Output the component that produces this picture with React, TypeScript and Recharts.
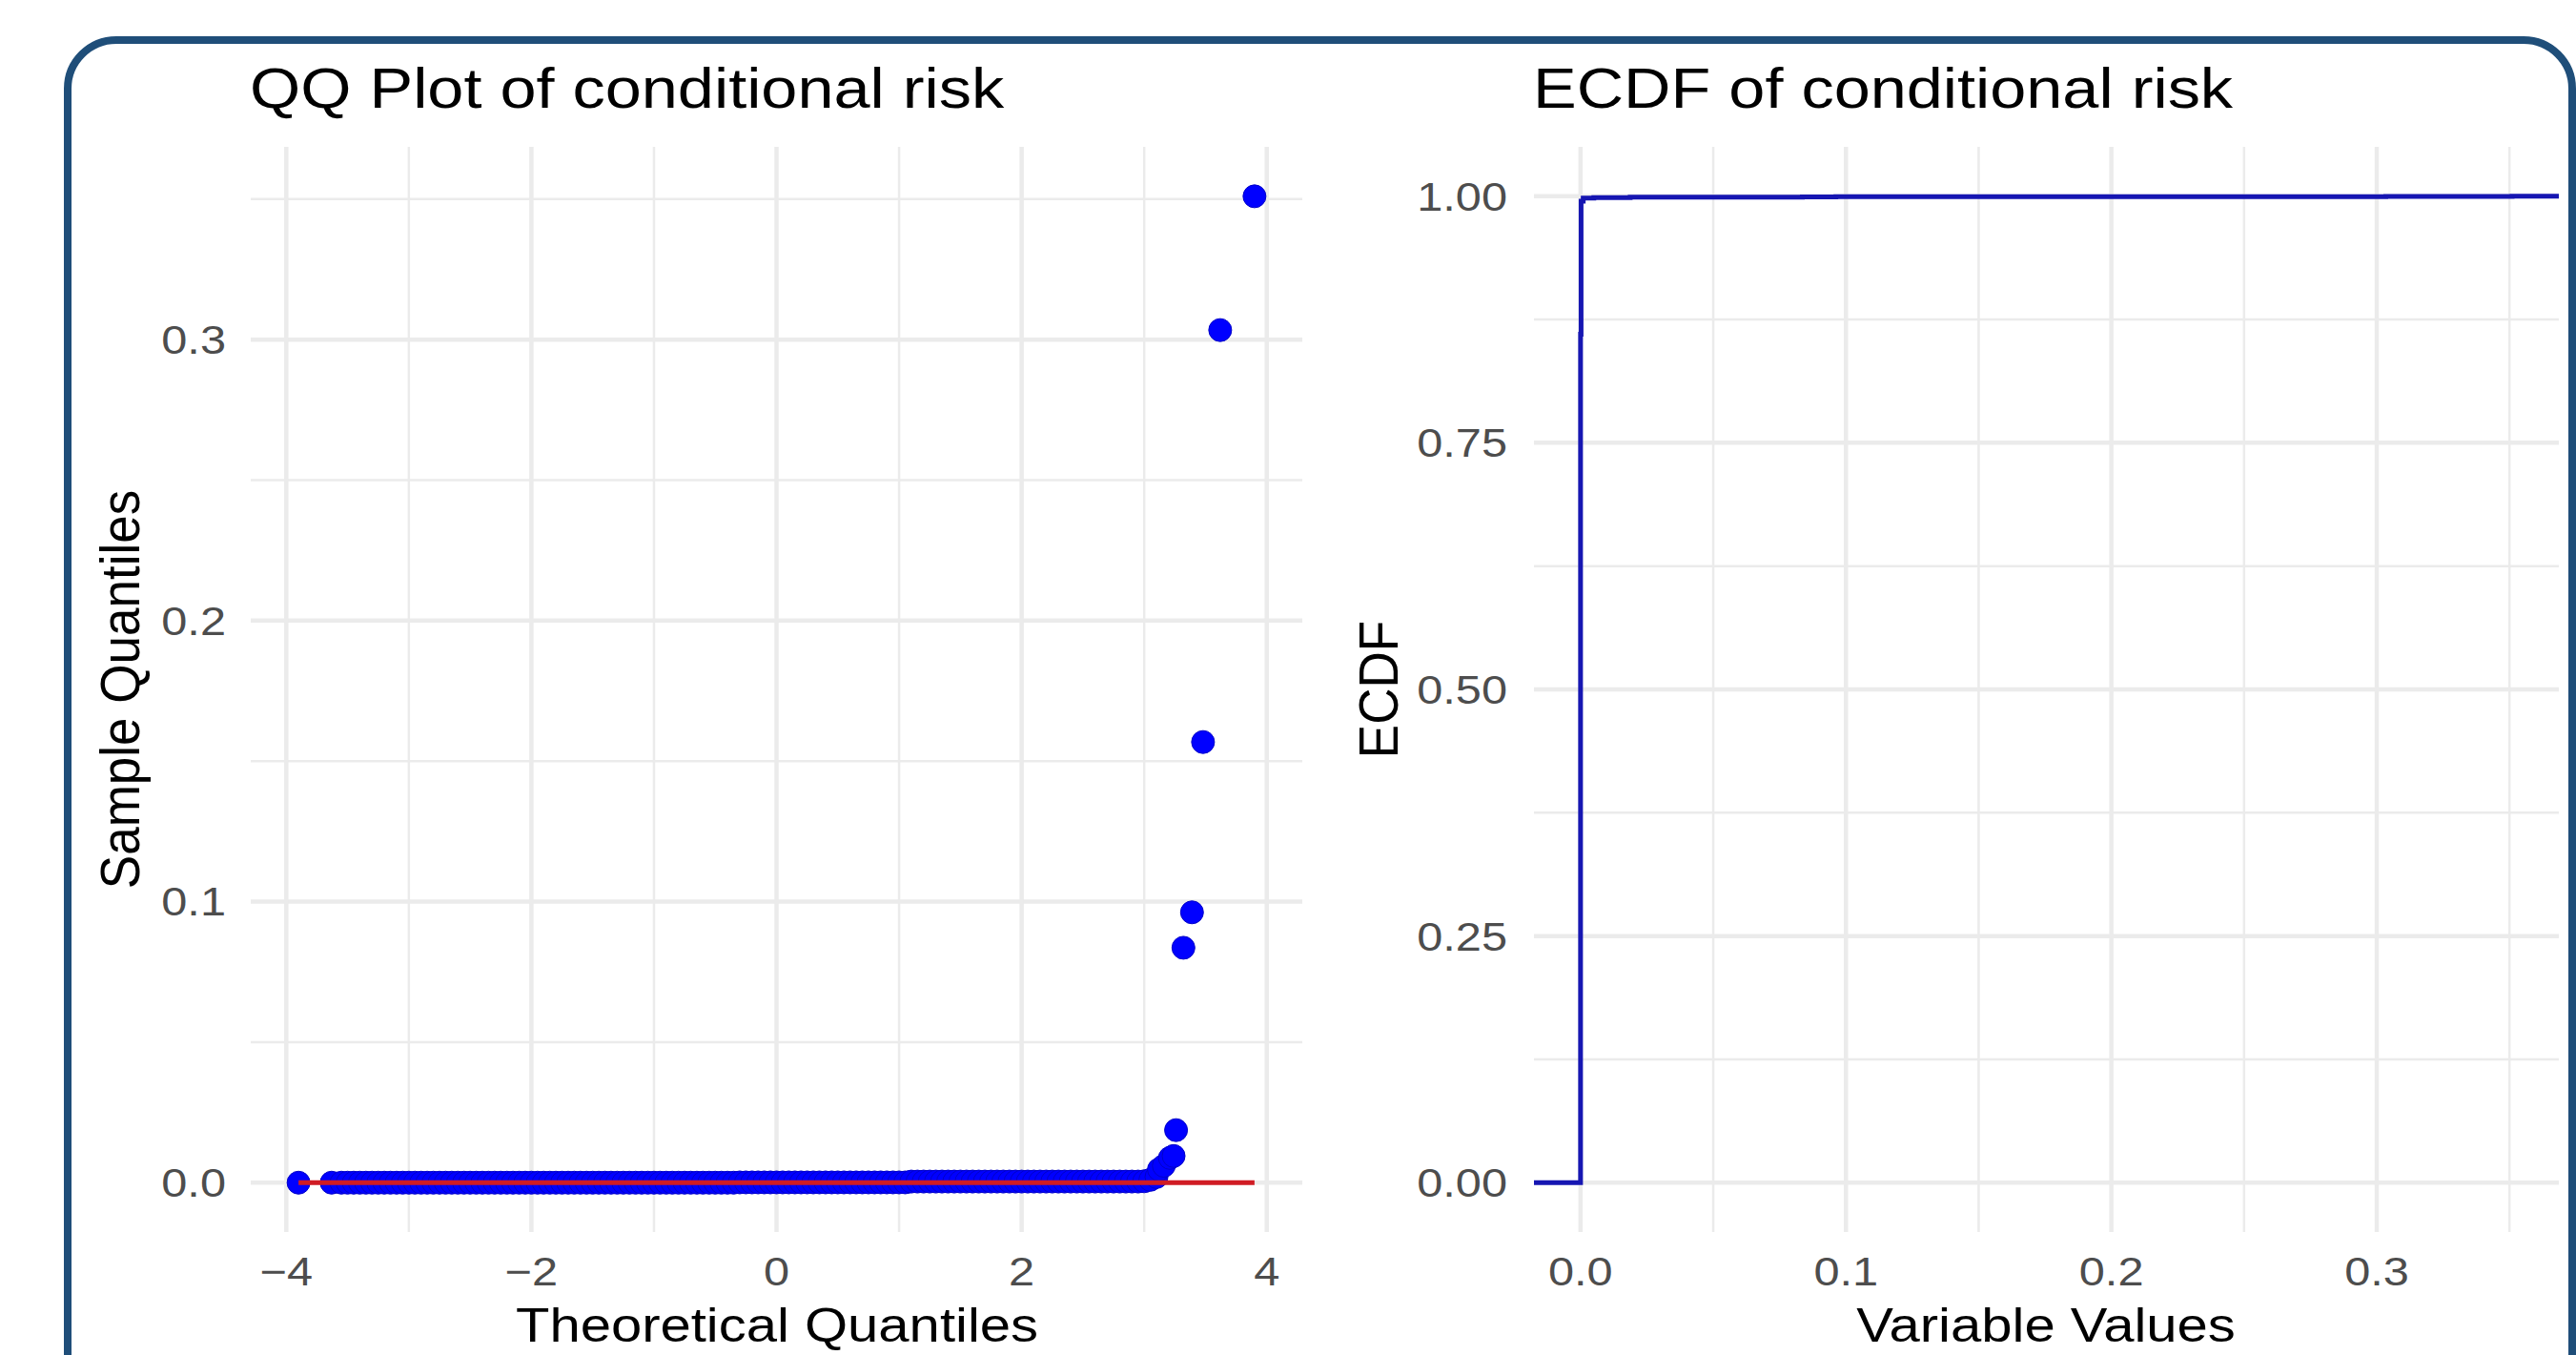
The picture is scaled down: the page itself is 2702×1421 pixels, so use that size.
import React from "react"
import { ComposedChart, LineChart, Line, Scatter, XAxis, YAxis, CartesianGrid } from "recharts"

// QQ plot points.
// Left tail and flat part of the band (sample quantile ~0)
const qqLowX = [
  -3.9, -3.63, -3.55, -3.5, -3.45, -3.4, -3.35,
  -3.3, -3.25, -3.2, -3.15, -3.1, -3.05, -3.0, -2.95, -2.9, -2.85,
  -2.8, -2.75, -2.7, -2.65, -2.6, -2.55, -2.5, -2.45, -2.4, -2.35,
  -2.3, -2.25, -2.2, -2.15, -2.1, -2.05, -2.0, -1.95, -1.9, -1.85,
  -1.8, -1.75, -1.7, -1.65, -1.6, -1.55, -1.5, -1.45, -1.4, -1.35,
  -1.3, -1.25, -1.2, -1.15, -1.1, -1.05, -1.0, -0.95, -0.9, -0.85,
  -0.8, -0.75, -0.7, -0.65, -0.6, -0.55, -0.5, -0.45, -0.4, -0.35,
  -0.3, -0.25, -0.2, -0.15, -0.1, -0.05, 0.0, 0.05, 0.1, 0.15,
  0.2, 0.25, 0.3, 0.35, 0.4, 0.45, 0.5, 0.55, 0.6, 0.65,
  0.7, 0.75, 0.8, 0.85, 0.9, 0.95, 1.0, 1.05,
]
const qqLowY = [
  0, 0, 0, 0, 0, 0, 0,
  0, 0, 0, 0, 0, 0, 0, 0, 0, 0,
  0, 0, 0, 0, 0, 0, 0, 0, 0, 0,
  0, 0, 0, 0, 0, 0, 0, 0, 0, 0,
  0, 0, 0, 0, 0, 0, 0, 0, 0, 0,
  0, 0, 0, 0, 0, 0, 0, 0, 0, 0,
  0, 0, 0, 0, 0, 0, 0, 0, 0, 0,
  0.0001, 0.0001, 0.0001, 0.0001, 0.0001, 0.0001, 0.0001, 0.0001, 0.0001, 0.0001,
  0.0001, 0.0001, 0.0001, 0.0001, 0.0001, 0.0001, 0.0001, 0.0001, 0.0001, 0.0001,
  0.0001, 0.0001, 0.0001, 0.0001, 0.0001, 0.0001, 0.0001, 0.0001,
]
// Slightly raised part of the band
const qqMidX = [
  1.1, 1.15, 1.2, 1.25, 1.3, 1.35, 1.4, 1.45, 1.5, 1.55,
  1.6, 1.65, 1.7, 1.75, 1.8, 1.85, 1.9, 1.95, 2.0, 2.05,
  2.1, 2.15, 2.2, 2.25, 2.3, 2.35, 2.4, 2.45, 2.5, 2.55,
  2.6, 2.65, 2.7, 2.75, 2.8, 2.85, 2.9, 2.95, 3.0,
]
const qqMidY = [
  0.0004, 0.0004, 0.0004, 0.0004, 0.0004, 0.0004, 0.0004, 0.0004, 0.0004, 0.0004,
  0.0004, 0.0004, 0.0004, 0.0004, 0.0004, 0.0004, 0.0004, 0.0004, 0.0004, 0.0004,
  0.0004, 0.0004, 0.0004, 0.0004, 0.0004, 0.0004, 0.0004, 0.0004, 0.0004, 0.0004,
  0.0004, 0.0004, 0.0004, 0.0004, 0.0004, 0.0004, 0.0004, 0.0004, 0.0005,
]
// Upper tail
const qqTailX = [3.05, 3.1, 3.12, 3.16, 3.21, 3.24, 3.26, 3.32, 3.39, 3.48, 3.62, 3.9]
const qqTailY = [0.001, 0.002, 0.0047, 0.006, 0.0088, 0.0095, 0.0187, 0.0836, 0.0962, 0.1568, 0.3034, 0.351]

// Reference (qq) line
const qqLineX = [-3.9, 3.9]
const qqLineY = [0, 0]

const qqXTicks = [-4, -2, 0, 2, 4]
const qqXLabels = ["\u22124", "\u22122", "0", "2", "4"]
const qqXMinor = [-3, -1, 1, 3]
const qqYTicks = [0, 0.1, 0.2, 0.3]
const qqYLabels = ["0.0", "0.1", "0.2", "0.3"]
const qqYMinor = [0.05, 0.15, 0.25, 0.35]

// ECDF (step function, padded to the panel edges like stat_ecdf)
const ecdfX = [-0.01755, 0, 0.0002, 0.001, 0.005, 0.0187, 0.0836, 0.0962, 0.1568, 0.3034, 0.351, 0.3686]
const ecdfY = [0, 0.86, 0.995, 0.998, 0.9985, 0.999, 0.9992, 0.9994, 0.9996, 0.9998, 1, 1]

const ecdfXTicks = [0, 0.1, 0.2, 0.3]
const ecdfXLabels = ["0.0", "0.1", "0.2", "0.3"]
const ecdfXMinor = [0.05, 0.15, 0.25, 0.35]
const ecdfYTicks = [0, 0.25, 0.5, 0.75, 1]
const ecdfYLabels = ["0.00", "0.25", "0.50", "0.75", "1.00"]
const ecdfYMinor = [0.125, 0.375, 0.625, 0.875]

const FONT = '"Liberation Sans", Arial, Helvetica, sans-serif'
const STRETCH = 1.16
const GRID = "#ebebeb"

const toPoints = (xs: number[], ys: number[]) => xs.map((x, i) => ({ x, y: ys[i] }))
const qqPoints = [...toPoints(qqLowX, qqLowY), ...toPoints(qqMidX, qqMidY), ...toPoints(qqTailX, qqTailY)]
const qqLine = toPoints(qqLineX, qqLineY)
const ecdfData = toPoints(ecdfX, ecdfY)

function tickRenderer(values: number[], labels: string[], side: "x" | "y") {
  return (props: any) => {
    const { x, y, payload } = props
    const i = values.indexOf(payload.value)
    const label = i >= 0 ? labels[i] : String(payload.value)
    return (
      <g transform={`translate(${x},${y}) scale(${STRETCH},1)`}>
        <text
          x={0}
          y={0}
          dy={side === "x" ? "0.71em" : "0.355em"}
          textAnchor={side === "x" ? "middle" : "end"}
          fill="#4d4d4d"
          fontSize={42}
          fontFamily={FONT}
        >
          {label}
        </text>
      </g>
    )
  }
}

// map a value through whatever scale object the grid generator receives
function mapThrough(s: any, v: number): number {
  if (typeof s === "function") return s(v)
  if (s && typeof s.map === "function") return s.map(v)
  const d = s.domain()
  const r = s.range()
  return r[0] + ((v - d[0]) / (d[1] - d[0])) * (r[1] - r[0])
}
const minorV = (values: number[]) => (p: any) => {
  try {
    return values.map((v) => mapThrough(p.xAxis.scale, v)).filter((n) => Number.isFinite(n))
  } catch (e) {
    return []
  }
}
const minorH = (values: number[]) => (p: any) => {
  try {
    return values.map((v) => mapThrough(p.yAxis.scale, v)).filter((n) => Number.isFinite(n))
  } catch (e) {
    return []
  }
}

const Dot = (props: any) => (
  <circle cx={props.cx} cy={props.cy} r={12} fill="#0000ff" stroke="#0000c8" strokeWidth={1} />
)
const NoDot = () => <g />

function PlotTitle({ left, text }: { left: number; text: string }) {
  return (
    <div
      style={{
        position: "absolute", left, top: 64, fontFamily: FONT, fontSize: 59, lineHeight: 1,
        whiteSpace: "nowrap", color: "#000", transform: `scaleX(${STRETCH})`, transformOrigin: "left top",
      }}
    >
      {text}
    </div>
  )
}

function XTitle({ cx, text }: { cx: number; text: string }) {
  return (
    <div
      style={{
        position: "absolute", left: cx, top: 1365, fontFamily: FONT, fontSize: 50, lineHeight: 1,
        whiteSpace: "nowrap", color: "#000", transform: `translateX(-50%) scaleX(${STRETCH})`,
      }}
    >
      {text}
    </div>
  )
}

function YTitle({ cx, cy, text }: { cx: number; cy: number; text: string }) {
  return (
    <div
      style={{
        position: "absolute", left: cx, top: cy, fontFamily: FONT, fontSize: 53, lineHeight: 1,
        whiteSpace: "nowrap", color: "#000",
        transform: `translate(-50%,-50%) rotate(-90deg) scaleY(1.08)`,
      }}
    >
      {text}
    </div>
  )
}

export default function App() {
  return (
    <div style={{ position: "fixed", left: 0, top: 0, width: 2702, height: 1421, overflow: "hidden", background: "#fff" }}>
      <div
        style={{
          position: "absolute", left: 67, top: 38, width: 2635, height: 1500, boxSizing: "border-box",
          border: "8px solid #1f4e79", borderRadius: 55, background: "#fff",
        }}
      />

      <div style={{ position: "absolute", left: 0, top: 0 }}>
        <ComposedChart width={1400} height={1421} margin={{ top: 154, right: 34, bottom: 0, left: 63 }}>
          <CartesianGrid
            stroke={GRID} strokeWidth={2.5}
            verticalCoordinatesGenerator={minorV(qqXMinor)}
            horizontalCoordinatesGenerator={minorH(qqYMinor)}
          />
          <CartesianGrid stroke={GRID} strokeWidth={4.5} syncWithTicks />
          <XAxis
            type="number" dataKey="x" domain={[-4.29, 4.29]} ticks={qqXTicks} allowDataOverflow
            height={129} axisLine={false} tickLine={false} tickSize={0} tickMargin={26}
            tick={tickRenderer(qqXTicks, qqXLabels, "x")}
          />
          <YAxis
            type="number" dataKey="y" domain={[-0.01755, 0.3686]} ticks={qqYTicks} allowDataOverflow
            width={200} axisLine={false} tickLine={false} tickSize={0} tickMargin={26}
            tick={tickRenderer(qqYTicks, qqYLabels, "y")}
          />
          <Scatter data={qqPoints} dataKey="y" shape={Dot} isAnimationActive={false} />
          <Scatter
            data={qqLine} dataKey="y" shape={NoDot} line={{ stroke: "#d01c24", strokeWidth: 5 }}
            lineType="joint" isAnimationActive={false}
          />
        </ComposedChart>
      </div>

      <div style={{ position: "absolute", left: 1400, top: 0 }}>
        <LineChart data={ecdfData} width={1302} height={1421} margin={{ top: 154, right: 18, bottom: 0, left: 29 }}>
          <CartesianGrid
            stroke={GRID} strokeWidth={2.5}
            verticalCoordinatesGenerator={minorV(ecdfXMinor)}
            horizontalCoordinatesGenerator={minorH(ecdfYMinor)}
          />
          <CartesianGrid stroke={GRID} strokeWidth={4.5} syncWithTicks />
          <XAxis
            type="number" dataKey="x" domain={[-0.01755, 0.3686]} ticks={ecdfXTicks} allowDataOverflow
            height={129} axisLine={false} tickLine={false} tickSize={0} tickMargin={26}
            tick={tickRenderer(ecdfXTicks, ecdfXLabels, "x")}
          />
          <YAxis
            type="number" domain={[-0.05, 1.05]} ticks={ecdfYTicks} allowDataOverflow
            width={180} axisLine={false} tickLine={false} tickSize={0} tickMargin={28}
            tick={tickRenderer(ecdfYTicks, ecdfYLabels, "y")}
          />
          <Line
            dataKey="y" type="stepAfter" stroke="#1616b2" strokeWidth={5}
            dot={false} activeDot={false} isAnimationActive={false}
          />
        </LineChart>
      </div>

      <PlotTitle left={262} text="QQ Plot of conditional risk" />
      <PlotTitle left={1608} text="ECDF of conditional risk" />
      <XTitle cx={815} text="Theoretical Quantiles" />
      <XTitle cx={2146} text="Variable Values" />
      <YTitle cx={126} cy={723} text="Sample Quantiles" />
      <YTitle cx={1446} cy={723} text="ECDF" />
    </div>
  )
}
